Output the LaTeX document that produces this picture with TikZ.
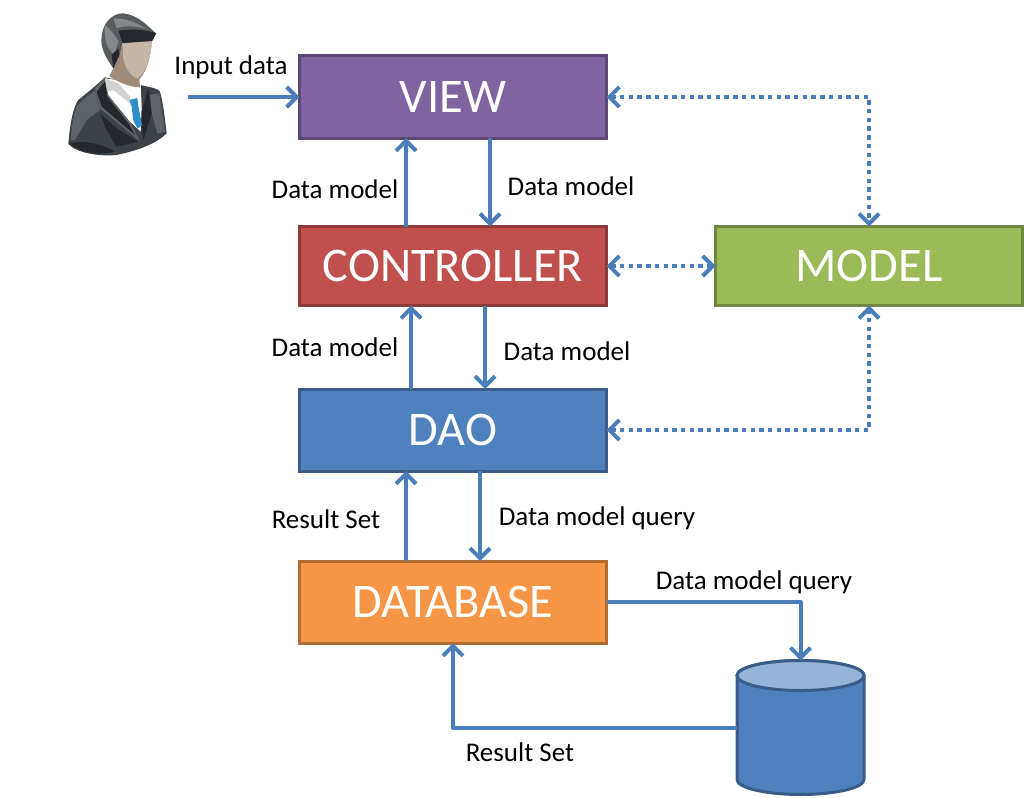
\documentclass[tikz,border=0pt]{standalone}
\usepackage{fontspec}
\setmainfont{Carlito}
\usetikzlibrary{arrows.meta}
\definecolor{linkblue}{HTML}{4A7EBB}
\tikzset{
 box/.style={draw=#1!72!black,fill=#1,line width=3pt,minimum width=307pt,text=white,font=\fontsize{48.3}{52}\selectfont,inner sep=0pt,outer sep=0pt,anchor=north west},
 note/.style={font=\fontsize{27}{30}\selectfont,text=black,inner sep=0pt},
 link/.style={draw=linkblue,line width=4pt,line join=round,-{Straight Barb[length=10pt,width=20pt,line width=4pt]}},
 duallink/.style={draw=linkblue,line width=4.2pt,dash pattern=on 4.4pt off 4.3pt,{Straight Barb[length=10pt,width=20pt,line width=4pt]}-{Straight Barb[length=10pt,width=20pt,line width=4pt]}},
}
\definecolor{vp}{HTML}{8064A2}\definecolor{cr}{HTML}{C0504D}\definecolor{mg}{HTML}{9BBB59}\definecolor{db}{HTML}{4F81BD}\definecolor{do}{HTML}{F79646}
\definecolor{suit}{HTML}{3C4248}\definecolor{suitlight}{HTML}{5E6368}\definecolor{suitdark}{HTML}{24282D}
\definecolor{hairg}{HTML}{595B5E}\definecolor{hairl}{HTML}{85878A}\definecolor{faceA}{HTML}{C6B6A6}\definecolor{faceB}{HTML}{A08B78}\definecolor{tieb}{HTML}{2F8FCB}
\begin{document}
\begin{tikzpicture}[x=1pt,y=-1pt]
\useasboundingbox (0,0) rectangle (1024,797);
% person
\begin{scope}[shift={(50,0)},x=0.3333pt,y=-0.3333pt,line join=round]
 % jacket
 \fill[suit] (55,432) .. controls (60,370) and (70,320) .. (85,300) .. controls (110,280) and (140,255) .. (165,232) -- (272,255) .. controls (300,262) and (325,265) .. (330,275) .. controls (340,310) and (345,360) .. (350,400) .. controls (320,430) and (270,450) .. (200,465) .. controls (150,470) and (80,460) .. (55,432) -- cycle;
 % streaks
 \fill[suitlight] (80,320) .. controls (100,295) and (120,285) .. (135,270) -- (150,330) -- (110,360) -- (75,420) -- (62,420) .. controls (65,380) and (70,345) .. (80,320) -- cycle;
 \fill[suitlight] (300,285) -- (328,280) -- (345,395) -- (322,400) -- (305,340) -- cycle;
 \fill[suitdark] (150,340) -- (200,385) -- (265,425) -- (200,440) -- (170,390) -- cycle;
 \fill[suitdark] (60,430) .. controls (100,420) and (150,430) .. (195,455) .. controls (140,468) and (85,455) .. (60,430) -- cycle;
 \fill[suitdark] (272,350) -- (295,265) -- (305,340) -- (280,420) -- cycle;
 % lapel
 \fill[suitlight] (135,265) -- (165,232) -- (175,285) -- (240,365) -- (270,425) -- (235,395) -- (150,325) -- cycle;
 \fill[suitdark] (140,275) -- (165,245) -- (172,290) -- (235,370) -- (255,405) -- (155,320) -- cycle;
 % shirt
 \fill[white] (165,235) -- (272,250) -- (275,320) -- (272,395) -- (240,365) -- (175,285) -- cycle;
 \fill[gray!35] (165,235) -- (205,250) -- (240,290) -- (240,310) -- (190,270) -- (172,275) -- cycle;
 % tie
 \fill[tieb] (238,300) -- (262,294) -- (265,318) -- (276,375) -- (263,386) -- (250,362) -- (245,320) -- cycle;
 % neck and face
 \fill[faceB] (190,205) -- (218,135) -- (305,125) .. controls (303,170) and (290,215) .. (268,238) -- (270,262) .. controls (240,262) and (200,245) .. (178,228) -- cycle;
 \fill[faceA] (220,130) -- (306,122) .. controls (303,170) and (290,215) .. (262,236) .. controls (232,222) and (212,185) .. (220,130) -- cycle;
 % hair
 \fill[hairg] (155,110) .. controls (158,70) and (185,40) .. (220,40) .. controls (265,45) and (295,80) .. (318,100) -- (308,122) -- (218,130) -- (208,165) -- (190,205) .. controls (165,170) and (150,140) .. (155,110) -- cycle;
 \fill[suitdark] (205,92) .. controls (250,85) and (290,90) .. (318,100) -- (306,123) -- (218,129) -- cycle;
 \fill[hairl] (165,75) .. controls (180,85) and (195,105) .. (205,125) -- (193,165) .. controls (175,150) and (160,125) .. (165,75) -- cycle;
 \fill[hairl] (190,55) .. controls (230,55) and (265,70) .. (290,88) .. controls (260,78) and (220,75) .. (200,85) -- cycle;
 \fill[suitdark] (185,165) -- (205,145) -- (208,165) -- (190,205) -- cycle;
\end{scope}
% boxes
\node[box=vp,minimum height=82pt] (view) at (299.5,56) {VIEW};
\node[box=cr,minimum height=79pt] (controller) at (299.5,226.5) {CONTROLLER};
\node[box=mg,minimum height=79pt] (model) at (715.5,226.5) {MODEL};
\node[box=db,minimum height=82pt] (dao) at (299.5,389) {DAO};
\node[box=do,minimum height=82pt] (database) at (299.5,561) {DATABASE};
% cylinder
\node[minimum width=127pt,minimum height=134pt,inner sep=0pt,outer sep=0pt,anchor=north] (store) at (800.5,660.5) {};
\fill[db,draw=db!72!black,line width=3pt] ([yshift=-15pt]store.north west) -- ([yshift=15pt]store.south west) arc[start angle=180,end angle=360,x radius=63.5pt,y radius=15pt] -- ([yshift=-15pt]store.north east) arc[start angle=0,end angle=180,x radius=63.5pt,y radius=15pt] -- cycle;
\fill[db!60!white,draw=db!72!black,line width=3pt] ([yshift=-15pt]store.north west) arc[start angle=180,end angle=540,x radius=63.5pt,y radius=15pt] -- cycle;
\coordinate (userout) at (188,97);
% links
\draw[link] (userout) -- (view.west |- userout);
\draw[link] ([xshift=-47pt]controller.north) -- ([xshift=-47pt]view.south);
\draw[link] ([xshift=37pt]view.south) -- ([xshift=37pt]controller.north);
\draw[link] ([xshift=-42pt]dao.north) -- ([xshift=-42pt]controller.south);
\draw[link] ([xshift=32pt]controller.south) -- ([xshift=32pt]dao.north);
\draw[link] ([xshift=-47pt]database.north) -- ([xshift=-47pt]dao.south);
\draw[link] ([xshift=27pt]dao.south) -- ([xshift=27pt]database.north);
\draw[link] (database.east) -- (store.north |- database.east) -- (store.north);
\coordinate (storeout) at (store.west |- 0,727.5);
\draw[link] (storeout) -| (database.south);
\draw[duallink] (view.east) -| (model.north);
\draw[duallink] (controller.east) -- (model.west);
\draw[duallink] (dao.east) -| (model.south);
% labels
\node[note] (l1) at (231,67) {Input data};
\node[note] (l2) at (335,189) {Data model};
\node[note] (l3) at (571,186) {Data model};
\node[note] (l4) at (335,347) {Data model};
\node[note] (l5) at (567,351) {Data model};
\node[note] (l6) at (326,519) {Result Set};
\node[note] (l7) at (597,518) {Data model query};
\node[note] (l8) at (754,582) {Data model query};
\node[note] (l9) at (520,752) {Result Set};
\end{tikzpicture}
\end{document}
